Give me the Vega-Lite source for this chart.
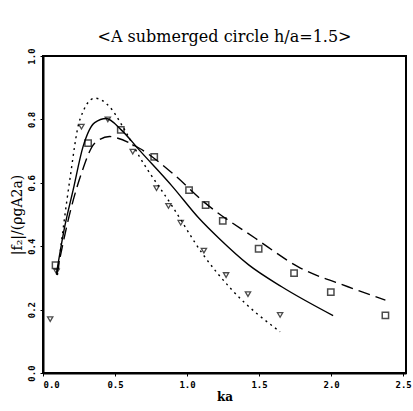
{
  "$schema": "https://vega.github.io/schema/vega-lite/v6.json",
  "width": 363,
  "height": 317,
  "autosize": {"type": "none"},
  "padding": {"left": 43, "top": 56, "right": 7, "bottom": 38},
  "background": "white",
  "config": {
    "view": {"stroke": "black", "strokeWidth": 2},
    "axis": {"domainColor": "black", "domainWidth": 2, "tickColor": "black", "grid": false, "labelColor": "black", "titleColor": "black"}
  },
  "title": {"text": "<A submerged circle h/a=1.5>", "font": "DejaVu Serif", "fontSize": 16, "fontWeight": "normal", "offset": 3, "anchor": "middle", "color": "black"},
  "datasets": {
    "solid": [
      {"ka": 0.094, "f": 0.315}, {"ka": 0.15, "f": 0.46}, {"ka": 0.209, "f": 0.577}, {"ka": 0.278, "f": 0.714},
      {"ka": 0.359, "f": 0.79}, {"ka": 0.439, "f": 0.803}, {"ka": 0.543, "f": 0.767}, {"ka": 0.669, "f": 0.703},
      {"ka": 0.899, "f": 0.588}, {"ka": 1.083, "f": 0.488}, {"ka": 1.221, "f": 0.425}, {"ka": 1.428, "f": 0.341},
      {"ka": 1.657, "f": 0.272}, {"ka": 2.014, "f": 0.181}
    ],
    "dotted": [
      {"ka": 0.1, "f": 0.309}, {"ka": 0.186, "f": 0.609}, {"ka": 0.255, "f": 0.798}, {"ka": 0.359, "f": 0.867},
      {"ka": 0.462, "f": 0.84}, {"ka": 0.554, "f": 0.777}, {"ka": 0.669, "f": 0.683}, {"ka": 0.899, "f": 0.525},
      {"ka": 1.106, "f": 0.377}, {"ka": 1.312, "f": 0.262}, {"ka": 1.646, "f": 0.13}
    ],
    "dashed": [
      {"ka": 0.094, "f": 0.31}, {"ka": 0.198, "f": 0.525}, {"ka": 0.267, "f": 0.63}, {"ka": 0.359, "f": 0.725},
      {"ka": 0.462, "f": 0.746}, {"ka": 0.508, "f": 0.742}, {"ka": 0.669, "f": 0.709}, {"ka": 0.899, "f": 0.63},
      {"ka": 1.129, "f": 0.535}, {"ka": 1.474, "f": 0.425}, {"ka": 1.772, "f": 0.335}, {"ka": 2.117, "f": 0.272},
      {"ka": 2.377, "f": 0.23}
    ],
    "squares": [
      {"ka": 0.087, "f": 0.34}, {"ka": 0.313, "f": 0.725}, {"ka": 0.54, "f": 0.767}, {"ka": 0.772, "f": 0.682},
      {"ka": 1.014, "f": 0.577}, {"ka": 1.129, "f": 0.53}, {"ka": 1.248, "f": 0.48}, {"ka": 1.497, "f": 0.392},
      {"ka": 1.743, "f": 0.315}, {"ka": 1.998, "f": 0.255}, {"ka": 2.377, "f": 0.182}
    ],
    "triangles": [
      {"ka": 0.05, "f": 0.17}, {"ka": 0.094, "f": 0.32}, {"ka": 0.267, "f": 0.777}, {"ka": 0.45, "f": 0.8},
      {"ka": 0.623, "f": 0.698}, {"ka": 0.788, "f": 0.583}, {"ka": 0.871, "f": 0.527}, {"ka": 0.956, "f": 0.474},
      {"ka": 1.117, "f": 0.386}, {"ka": 1.271, "f": 0.309}, {"ka": 1.423, "f": 0.249}, {"ka": 1.646, "f": 0.183}
    ]
  },
  "encoding": {
    "x": {"field": "ka", "type": "quantitative", "scale": {"domain": [0, 2.52], "nice": false, "zero": false},
      "axis": {"values": [0, 0.5, 1, 1.5, 2, 2.5], "format": ".1f", "title": "ka", "titleFont": "DejaVu Serif", "titleFontSize": 12, "titleFontWeight": "bold", "titlePadding": 2,
        "labelFont": "DejaVu Sans Mono", "labelFontSize": 9, "labelFontWeight": "bold", "tickSize": 3, "labelPadding": 4}},
    "y": {"field": "f", "type": "quantitative", "scale": {"domain": [0, 1], "nice": false},
      "axis": {"values": [0, 0.2, 0.4, 0.6, 0.8, 1.0], "format": ".1f", "title": "|f₂|/(ρgA2a)", "titleFont": "DejaVu Serif", "titleFontSize": 14, "titleFontWeight": "normal", "titlePadding": 3,
        "labelAngle": -90, "labelAlign": "center", "labelBaseline": "bottom", "labelFont": "DejaVu Sans Mono", "labelFontSize": 9, "labelFontWeight": "bold", "tickSize": 3, "labelPadding": 4}}
  },
  "layer": [
    {"data": {"name": "solid"}, "mark": {"type": "line", "interpolate": "monotone", "color": "black", "strokeWidth": 1.4}},
    {"data": {"name": "dotted"}, "mark": {"type": "line", "interpolate": "monotone", "color": "black", "strokeWidth": 1.4, "strokeDash": [2, 4]}},
    {"data": {"name": "dashed"}, "mark": {"type": "line", "interpolate": "monotone", "color": "black", "strokeWidth": 1.4, "strokeDash": [12, 6]}},
    {"data": {"name": "squares"}, "mark": {"type": "point", "shape": "square", "filled": false, "color": "black", "strokeWidth": 1.5, "size": 40}},
    {"data": {"name": "triangles"}, "mark": {"type": "point", "shape": "triangle-down", "filled": false, "color": "black", "strokeWidth": 1.3, "size": 28}}
  ]
}
